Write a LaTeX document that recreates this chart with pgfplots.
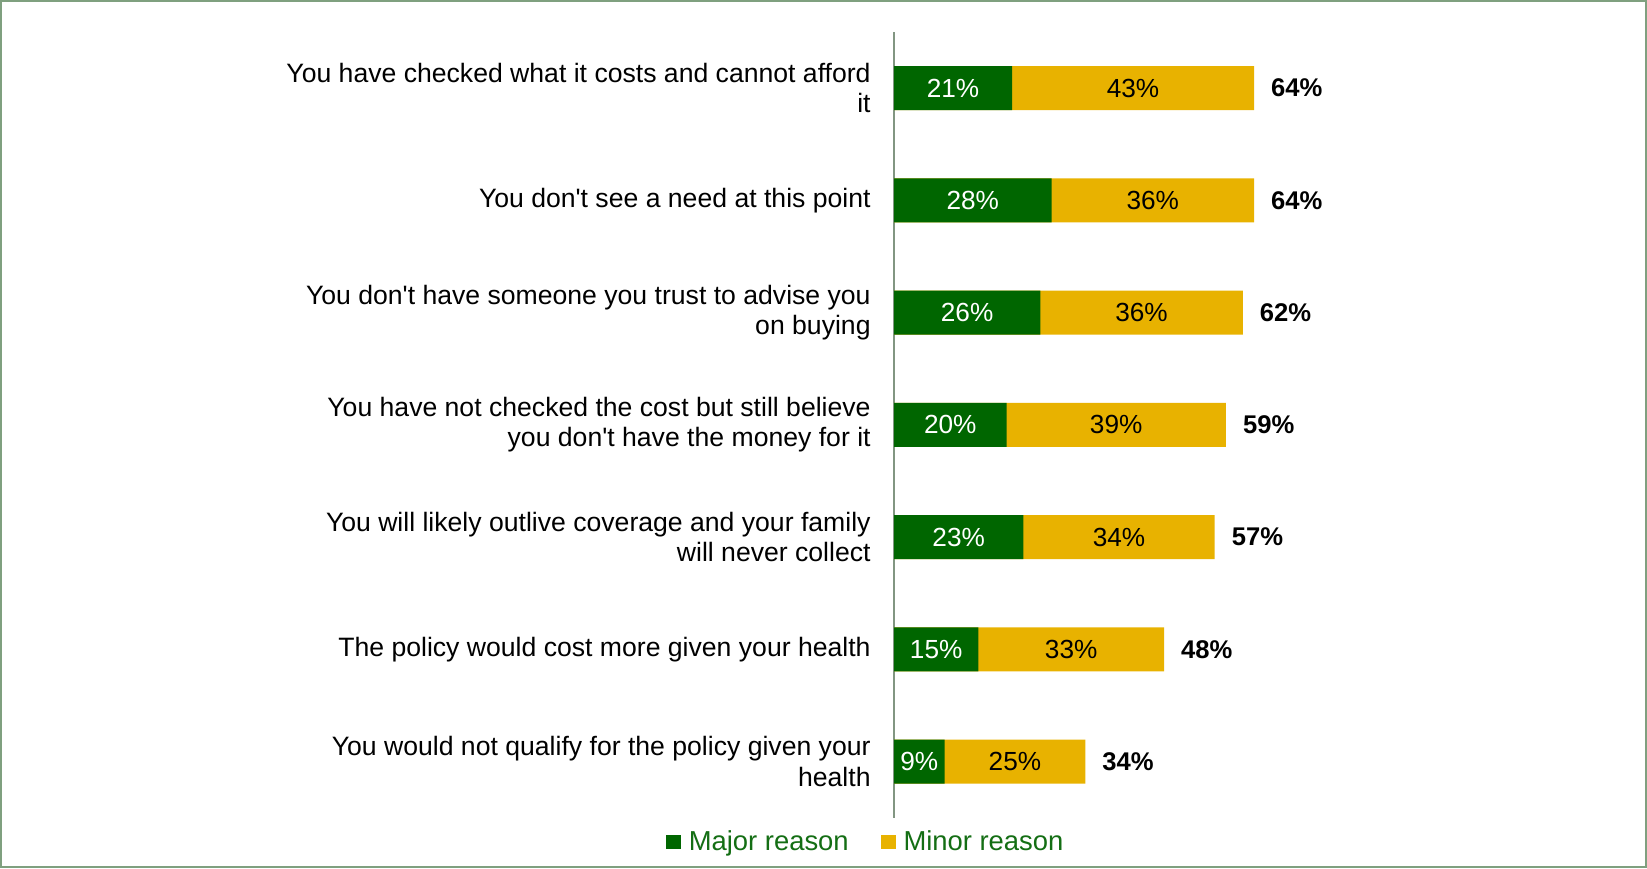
\documentclass[border=0pt]{standalone}
\usepackage{pgfplots}
\usepackage{pgfplotstable}
\pgfplotsset{compat=1.18}
\usepackage{fontspec}
\setmainfont{Liberation Sans}
\definecolor{major}{RGB}{0,102,0}
\definecolor{minor}{RGB}{232,178,0}
\definecolor{framec}{RGB}{127,160,127}
\definecolor{axisc}{RGB}{130,150,130}
\definecolor{legtext}{RGB}{20,110,20}
\pgfplotstableread{
idx major minor
1 21 43
2 28 36
3 26 36
4 20 39
5 23 34
6 15 33
7 9 25
}\datatable
\begin{document}
\begin{tikzpicture}
\draw[framec, line width=1.2pt] (0.6pt,0.6pt) rectangle (822.9pt,433.4pt);
\begin{axis}[
  at={(447pt,25.2pt)}, anchor=south west,
  scale only axis, width=281.25pt, height=392.8pt,
  xbar, bar width=22pt, bar shift=0pt,
  xmin=0, xmax=100, ymin=0.5, ymax=7.5, y dir=reverse,
  axis x line=none, axis y line=left,
  y axis line style={draw=axisc, line width=0.6pt, -},
  ytick={1,...,7},
  yticklabels={{You have checked what it costs and cannot afford\\it},
    {You don\textquotesingle t see a need at this point},
    {You don\textquotesingle t have someone you trust to advise you\\on buying},
    {You have not checked the cost but still believe\\you don\textquotesingle t have the money for it},
    {You will likely outlive coverage and your family\\will never collect},
    {The policy would cost more given your health},
    {You would not qualify for the policy given your\\health}},
  yticklabel style={align=right, inner sep=0pt, xshift=-11.5pt, text=black,
    font=\fontsize{13.3}{15.25}\selectfont},
  major tick length=0pt,
  /pgf/number format/assume math mode=true,
  legend style={at={(axis description cs:-0.0485,-0.031)}, anchor=center, draw=none,
    legend columns=2, font=\fontsize{13.7}{16}\selectfont\color{legtext},
    /tikz/every even column/.append style={column sep=14pt}},
  legend image code/.code={\fill[#1] (0pt,-3.7pt) rectangle (7.4pt,3.7pt);},
]
\addlegendimage{fill=major, draw=none}
\addlegendimage{fill=minor, draw=none}
% minor (full bar to total) with total label
\addplot[forget plot, fill=minor, draw=none, point meta=x,
  nodes near coords={\pgfmathprintnumber{\pgfplotspointmeta}\%},
  every node near coord/.append style={anchor=west, xshift=8.4pt, inner sep=0pt,
    text=black, font=\fontsize{12.8}{15}\selectfont\bfseries}]
  table[x expr=\thisrow{major}+\thisrow{minor}, y=idx] {\datatable};
% major bar
\addplot[forget plot, fill=major, draw=none]
  table[x=major, y=idx] {\datatable};
% major labels
\addplot[forget plot, draw=none, fill=none, point meta=explicit,
  nodes near coords={\pgfmathprintnumber{\pgfplotspointmeta}\%},
  every node near coord/.append style={anchor=center, inner sep=0pt, text=white,
    font=\fontsize{13.1}{15}\selectfont}]
  table[x expr=\thisrow{major}/2, y=idx, meta=major] {\datatable};
% minor labels
\addplot[forget plot, draw=none, fill=none, point meta=explicit,
  nodes near coords={\pgfmathprintnumber{\pgfplotspointmeta}\%},
  every node near coord/.append style={anchor=center, inner sep=0pt, text=black,
    font=\fontsize{13.1}{15}\selectfont}]
  table[x expr=\thisrow{major}+\thisrow{minor}/2, y=idx, meta=minor] {\datatable};
\legend{\hspace{2pt}Major reason, \hspace{2pt}Minor reason}
\end{axis}
\pgfresetboundingbox
\useasboundingbox (0,0) rectangle (823.5pt,434pt);
\end{tikzpicture}
\end{document}
